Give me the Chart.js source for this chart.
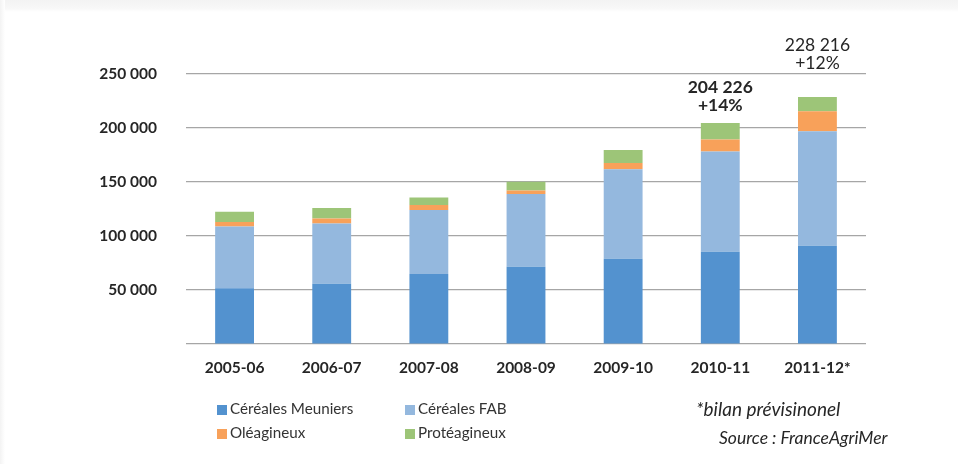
<!DOCTYPE html>
<html>
<head>
<meta charset="utf-8">
<script src="https://cdn.jsdelivr.net/npm/chart.js@4"></script>
<style>
  html, body { margin: 0; padding: 0; background: #ffffff; }
  body { width: 958px; height: 464px; position: relative; overflow: hidden; font-family: Lato, "Open Sans", sans-serif; }
  #shadeTop { position: absolute; left: 0; top: 0; width: 958px; height: 12px; background: linear-gradient(#f3f3f3, #f8f8f8 70%, #ffffff); }
  #shadeLeft { position: absolute; left: 0; top: 0; width: 5px; height: 464px; background: linear-gradient(90deg, #f3f3f3, #ffffff); }
  #wrap { position: absolute; left: 0; top: 0; width: 958px; height: 464px; }
  .leg { position: absolute; font-size: 15.2px; color: #333333; white-space: nowrap; line-height: 16px; }
  .leg span.sw { display: inline-block; width: 10px; height: 10px; vertical-align: -1px; margin-right: 3px; }
  .note { position: absolute; font-style: italic; color: #262626; white-space: nowrap; line-height: 20px; }
</style>
</head>
<body>
<div id="shadeTop"></div>
<div id="shadeLeft"></div>
<div id="wrap"><canvas id="c" width="958" height="464"></canvas></div>
<div id="legend"></div>
<div class="note" id="note1" style="left:696px; top:399px; font-size:19px;"></div>
<div class="note" id="note2" style="left:719px; top:428px; font-size:17.5px;"></div>
<script>
// ---- Data ----
const categories = ['2005-06', '2006-07', '2007-08', '2008-09', '2009-10', '2010-11', '2011-12*'];
const seriesNames = ['Céréales Meuniers', 'Céréales FAB', 'Oléagineux', 'Protéagineux'];
const cerealesMeuniers = [51600, 55600, 64800, 71300, 78700, 85200, 90700];
const cerealesFAB      = [57000, 55800, 59000, 67300, 82700, 92600, 105900];
const oleagineux       = [4100, 4600, 4600, 3300, 5900, 11100, 18500];
const proteagineux     = [9500, 9600, 7100, 8100, 12000, 15326, 13116];
const totalLabels      = ['', '', '', '', '', '204 226', '228 216'];
const growthLabels     = ['', '', '', '', '', '+14%', '+12%'];
const yTicks           = [0, 50000, 100000, 150000, 200000, 250000];
const noteText         = '*bilan prévisinonel';
const sourceText       = 'Source : FranceAgriMer';

const colors = ['#5392CF', '#94B8DE', '#F8A15A', '#9DC578'];
const seriesValues = [cerealesMeuniers, cerealesFAB, oleagineux, proteagineux];

function fmt(v) {
  return v === 0 ? '' : String(v).replace(/\B(?=(\d{3})+(?!\d))/g, ' ');
}

// annotation plugin: totals above the last bars
const annotPlugin = {
  id: 'annot',
  afterDatasetsDraw(chart) {
    const ctx = chart.ctx;
    const lastMeta = chart.getDatasetMeta(chart.data.datasets.length - 1);
    const styles = {5: {weight: 'bold', gap: 18}, 6: {weight: 'normal', gap: 34}};
    ctx.save();
    ctx.textAlign = 'center';
    ctx.textBaseline = 'middle';
    ctx.fillStyle = '#262626';
    totalLabels.forEach((t, i) => {
      if (!t) return;
      const bar = lastMeta.data[i];
      const st = styles[i] || {weight: 'normal', gap: 18};
      ctx.font = st.weight + ' 17.5px Lato, sans-serif';
      const yLine2 = bar.y - st.gap;
      ctx.fillText(growthLabels[i], bar.x, yLine2);
      ctx.fillText(t, bar.x, yLine2 - 17.5);
    });
    ctx.restore();
  }
};

const chart = new Chart(document.getElementById('c'), {
  type: 'bar',
  data: {
    labels: categories,
    datasets: seriesNames.map((name, k) => ({
      label: name,
      data: seriesValues[k],
      backgroundColor: colors[k],
      borderWidth: 0,
      categoryPercentage: 1,
      barPercentage: 0.4
    }))
  },
  options: {
    responsive: false,
    animation: false,
    layout: { padding: { left: 0, right: 92, top: 73.5, bottom: 80 } },
    plugins: { legend: { display: false }, tooltip: { enabled: false } },
    scales: {
      x: {
        stacked: true,
        grid: { display: false, drawTicks: false },
        border: { display: false },
        ticks: { color: '#262626', font: { family: 'Lato', size: 15.5, weight: 'bold' }, padding: 15, maxRotation: 0 },
        afterFit(scale) { scale.height = 40; }
      },
      y: {
        stacked: true,
        min: 0,
        max: 250000,
        afterBuildTicks(scale) { scale.ticks = yTicks.map(v => ({ value: v })); },
        grid: { color: '#A6A6A6', lineWidth: 1.2, drawTicks: false },
        border: { display: false },
        ticks: { color: '#262626', font: { family: 'Lato', size: 15.5, weight: 'bold' }, padding: 29, callback: v => fmt(v) },
        afterFit(scale) { scale.width = 186; }
      }
    }
  },
  plugins: [annotPlugin]
});

// HTML legend built from datasets
const legendPos = [[217, 400], [405, 400], [217, 424], [405, 424]];
const legendDiv = document.getElementById('legend');
chart.data.datasets.forEach((ds, k) => {
  const d = document.createElement('div');
  d.className = 'leg';
  d.style.left = legendPos[k][0] + 'px';
  d.style.top = legendPos[k][1] + 'px';
  const sw = document.createElement('span');
  sw.className = 'sw';
  sw.style.background = ds.backgroundColor;
  d.appendChild(sw);
  d.appendChild(document.createTextNode(ds.label));
  legendDiv.appendChild(d);
});
document.getElementById('note1').textContent = noteText;
document.getElementById('note2').textContent = sourceText;
</script>
</body>
</html>
